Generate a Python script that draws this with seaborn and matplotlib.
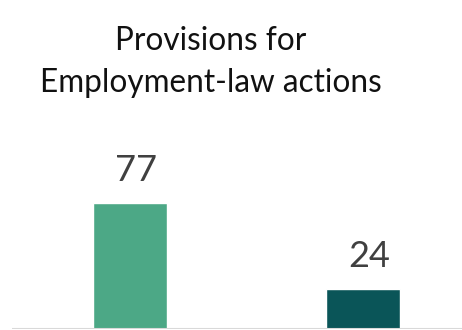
import matplotlib
matplotlib.use("Agg")
import matplotlib.pyplot as plt
import seaborn as sns

categories = ["Bar 1", "Bar 2"]
values = [77, 24]
colors = ["#4CA886", "#0A5558"]
title_lines = ["Provisions for", "Employment-law actions"]

sns.set_theme(style="white")
plt.rcParams["font.family"] = ["Lato", "DejaVu Sans"]

fig = plt.figure(figsize=(4.62, 3.30), dpi=100)
ax = fig.add_axes([12 / 462, 1.5 / 330, 450 / 462, 328.5 / 330])

sns.barplot(x=categories, y=values, hue=categories, palette=colors,
            width=0.318, legend=False, ax=ax, saturation=1)

ax.set_xlim(-0.506, 1.425)
ax.set_ylim(0, 202)
ax.axhline(0, color="#D9D9D9", lw=1.5, zorder=5)
for s in ax.spines.values():
    s.set_visible(False)
ax.set_xticks([])
ax.set_yticks([])
ax.set_xlabel("")
ax.set_ylabel("")

for i, v in enumerate(values):
    ax.annotate(str(v), xy=(i, v), xytext=(6, 22), textcoords="offset pixels",
                ha="center", va="baseline", fontsize=26, color="#404040")

for line, base in zip(title_lines, [50, 92]):
    fig.text(211 / 462, 1 - base / 330, line, ha="center", va="baseline",
             fontsize=22.7, color="#111111")

fig.savefig("out.png", dpi=100, facecolor="white")
